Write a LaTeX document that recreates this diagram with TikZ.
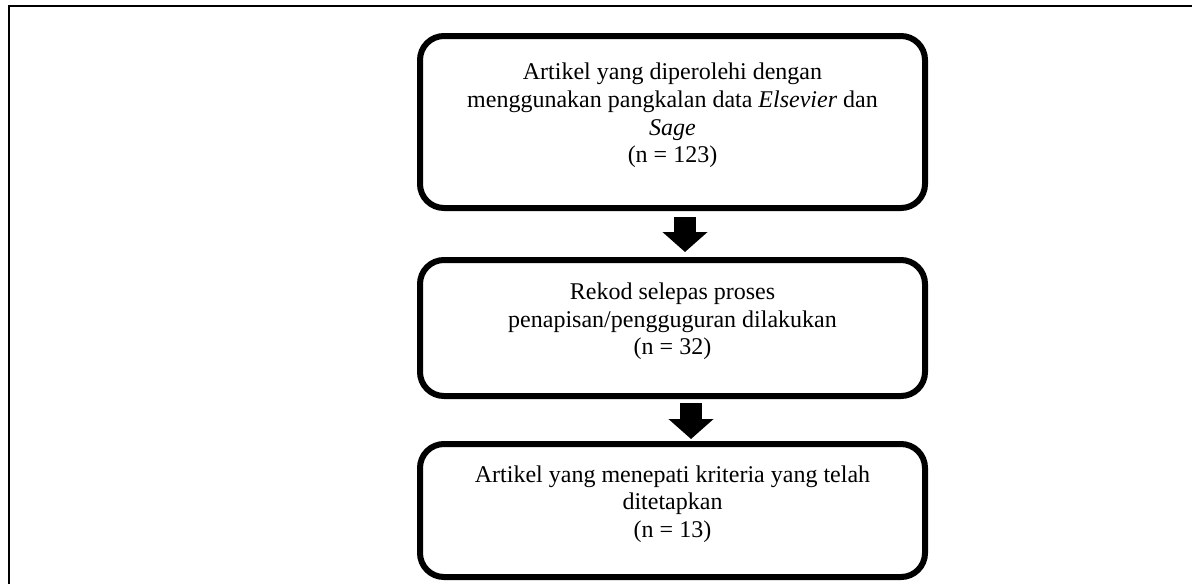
\documentclass[tikz,border=0pt]{standalone}
\usepackage{fontspec}
\setmainfont{Liberation Serif}
\usetikzlibrary{positioning, arrows.meta}
\tikzset{
recbox/.style={draw, line width=3pt, rounded corners=12pt, minimum width=252.5pt, align=center, text depth=9pt, font=\fontsize{12}{13.8}\selectfont}, % the three rounded boxes, text set a little high
blockarrow/.style={line width=11pt, -{Triangle[width=22pt,length=10pt]}}, % thick black arrows between boxes
frameline/.style={line width=1pt}, % the outer frame (top and left only)
}

\begin{document}
\begin{tikzpicture}[x=0.5pt, y=-0.5pt]
        \useasboundingbox (0,0) rectangle (1192,584);
        \draw[frameline] (1192,6) -- (9,6) -- (9,584);
        \node[recbox, minimum height=86pt] (rec1) at (672.5,122) {Artikel yang diperolehi dengan\\ menggunakan pangkalan data \textit{Elsevier} dan\\ \textit{Sage}\\ (n = 123)};
        \node[recbox, minimum height=68pt, below=23pt of rec1] (rec2) {Rekod selepas proses\\ penapisan/pengguguran dilakukan\\ (n = 32)};
        \node[recbox, minimum height=66.5pt, below=21pt of rec2] (rec3) {Artikel yang menepati kriteria yang telah\\ ditetapkan\\ (n = 13)};
        \draw[blockarrow, shorten <=3pt, shorten >=2.5pt] ([xshift=6.25pt]rec1.south) -- ([xshift=6.25pt]rec2.north);
        \draw[blockarrow, shorten <=2pt, shorten >=1pt] ([xshift=9.25pt]rec2.south) -- ([xshift=9.25pt]rec3.north);
    \end{tikzpicture}
\end{document}
